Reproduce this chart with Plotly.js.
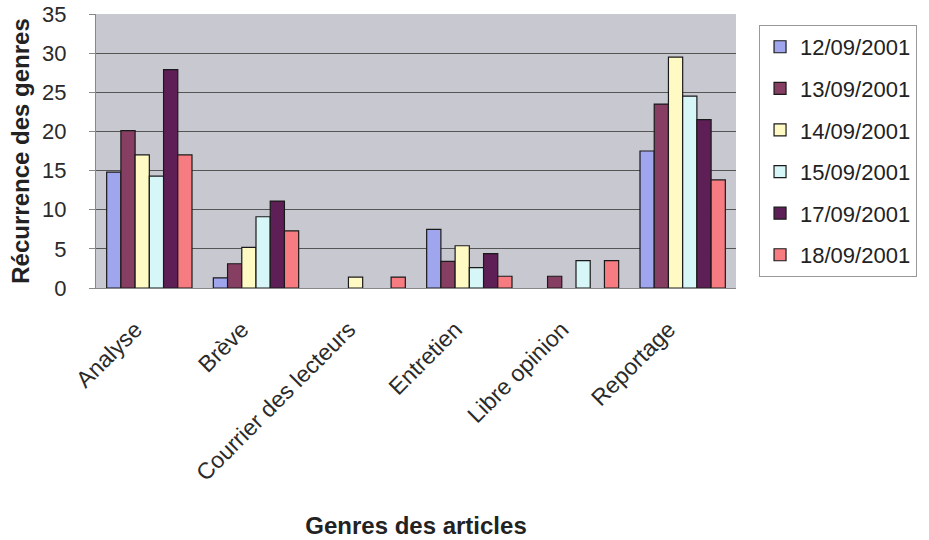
<!DOCTYPE html>
<html>
<head>
<meta charset="utf-8">
<script src="https://cdn.plot.ly/plotly-3.0.1.min.js"></script>
<style>html,body{margin:0;padding:0;background:#fff;}#chart{width:929px;height:540px;}</style>
</head>
<body>
<div id="chart"></div>
<script>
const categories = ["Analyse", "Brève", "Courrier des lecteurs", "Entretien", "Libre opinion", "Reportage"];
const seriesNames = ["12/09/2001", "13/09/2001", "14/09/2001", "15/09/2001", "17/09/2001", "18/09/2001"];
const s1209 = [14.8, 1.3, null, 7.5, null, 17.5];
const s1309 = [20.1, 3.1, null, 3.4, 1.5, 23.5];
const s1409 = [17.0, 5.2, 1.4, 5.4, null, 29.5];
const s1509 = [14.3, 9.1, null, 2.6, 3.5, 24.5];
const s1709 = [27.9, 11.1, null, 4.4, null, 21.5];
const s1809 = [17.0, 7.3, 1.4, 1.5, 3.5, 13.8];
const yTicks = [0, 5, 10, 15, 20, 25, 30, 35];

const colors = ["#a0a6ee", "#863e62", "#fffac4", "#d6f6f8", "#5e1e56", "#f77c82"];
const allSeries = [s1209, s1309, s1409, s1509, s1709, s1809];

const traces = allSeries.map((vals, i) => ({
  type: "bar",
  name: seriesNames[i],
  legendgroup: "g" + i,
  x: categories,
  y: vals,
  marker: {color: colors[i], line: {color: "#1a1a1a", width: 1.2}},
  hoverinfo: "x+y+name"
}));

const layout = {
  width: 929, height: 540,
  margin: {l: 96, r: 191, t: 14, b: 252},
  paper_bgcolor: "#ffffff",
  plot_bgcolor: "#c8c8d0",
  barmode: "group",
  bargap: 0.2,
  bargroupgap: 0,
  font: {family: "Liberation Sans, Arial, sans-serif", size: 22, color: "#222"},
  xaxis: {
    tickangle: -45,
    tickfont: {size: 23, color: "#2a2a2a"},
    showline: true, linecolor: "#888", linewidth: 1,
    ticks: "",
    ticklabelstandoff: 18,
    ticklabelshift: -14,
    title: {text: "<b>Genres des articles</b>", font: {size: 24, color: "#222"}, standoff: 32},
    automargin: false
  },
  yaxis: {
    range: [0, 35],
    tickvals: yTicks,
    ticks: "outside", ticklen: 6, tickcolor: "#888",
    tickfont: {size: 22, color: "#2a2a2a"},
    ticklabelstandoff: 18,
    showline: true, linecolor: "#888", linewidth: 1,
    gridcolor: "#555", gridwidth: 1,
    zeroline: false,
    title: {text: "<b>Récurrence des genres</b>", font: {size: 24, color: "#222"}, standoff: 5},
    automargin: false
  },
  legend: {
    x: 1.036, xanchor: "left",
    y: 0.96, yanchor: "top",
    bgcolor: "#ffffff",
    bordercolor: "#999", borderwidth: 1,
    font: {size: 22, color: "#222"},
    tracegroupgap: 10,
    traceorder: "grouped",
    itemwidth: 30
  },
  showlegend: true
};

Plotly.newPlot("chart", traces, layout, {displayModeBar: false, staticPlot: true});
</script>
</body>
</html>
